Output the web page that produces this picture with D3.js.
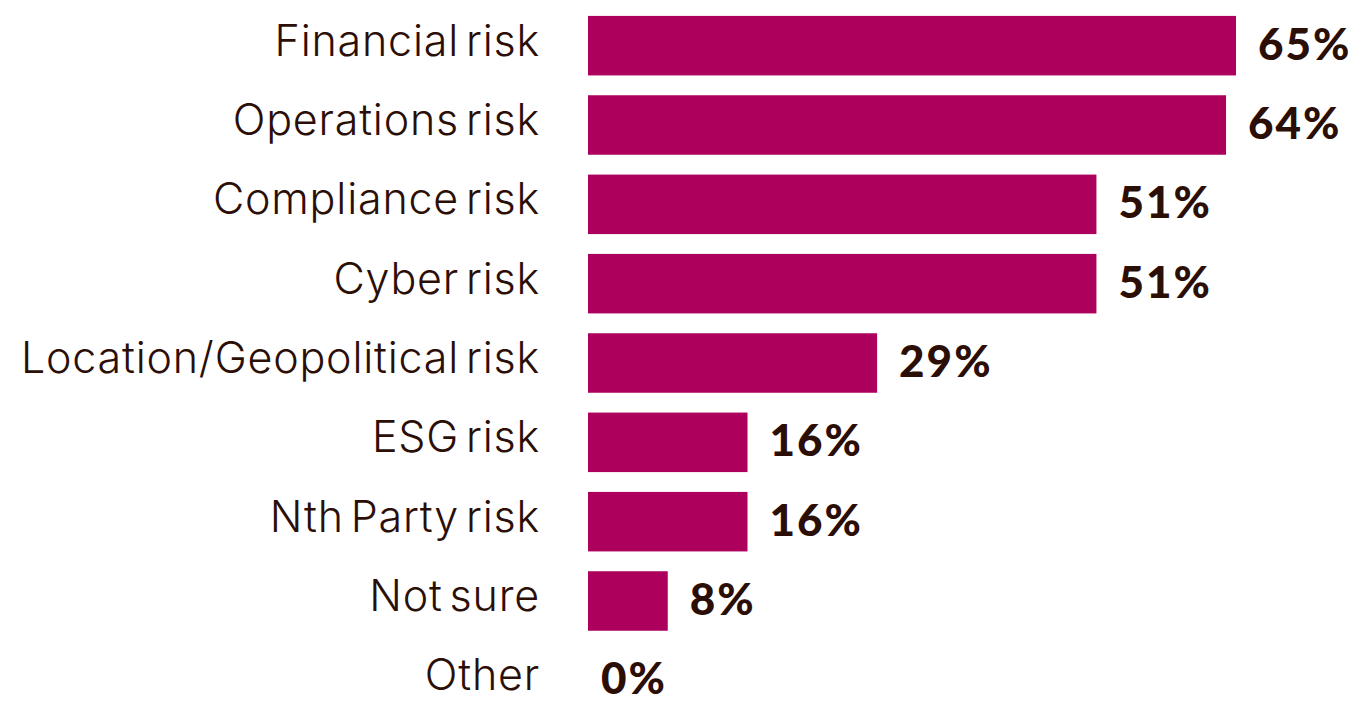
<!DOCTYPE html>
<html>
<head>
<meta charset="utf-8">
<script src="https://cdn.jsdelivr.net/npm/d3@7"></script>
<style>
  html, body { margin: 0; padding: 0; background: #ffffff; }
  svg { display: block; }
</style>
</head>
<body>
<svg id="chart" width="1360" height="702"></svg>
<script>
// Risk categories and share of respondents (%)
const categories = [
  "Financial risk",
  "Operations risk",
  "Compliance risk",
  "Cyber risk",
  "Location/Geopolitical risk",
  "ESG risk",
  "Nth Party risk",
  "Not sure",
  "Other"
];
const values = [65, 64, 51, 51, 29, 16, 16, 8, 0];

const barColor = "#ad005c";
const textColor = "#2b0e06";

const svg = d3.select("#chart");
const data = categories.map((c, i) => ({ category: c, value: values[i] }));

const x = d3.scaleLinear().domain([0, 65]).range([588, 1236]);
const y = d3.scaleBand()
  .domain(categories)
  .range([6, 720])
  .paddingInner(0.25)
  .paddingOuter(0.125);
const mid = d => y(d.category) + y.bandwidth() / 2;

// Bars
svg.append("g")
  .selectAll("rect")
  .data(data)
  .join("rect")
  .attr("x", x(0))
  .attr("y", d => y(d.category))
  .attr("width", d => x(d.value) - x(0))
  .attr("height", y.bandwidth())
  .attr("fill", barColor);

// Category labels
svg.append("g")
  .selectAll("text")
  .data(data)
  .join("text")
  .attr("x", 540)
  .attr("y", d => mid(d) + 10)
  .attr("text-anchor", "end")
  .attr("font-family", "Inter, 'Open Sans', sans-serif")
  .attr("font-weight", 300)
  .attr("font-size", 43)
  .attr("letter-spacing", 0.8)
  .attr("word-spacing", -6)
  .attr("fill", textColor)
  .text(d => d.category);

// Value labels
svg.append("g")
  .selectAll("text")
  .data(data)
  .join("text")
  .attr("x", d => x(d.value) + (d.value > 0 ? 22 : 13))
  .attr("y", d => mid(d) + 14)
  .attr("font-family", "Lato, Inter, sans-serif")
  .attr("font-weight", 900)
  .attr("font-size", 44)
  .attr("letter-spacing", 2)
  .attr("fill", textColor)
  .text(d => d.value + "%");
</script>
</body>
</html>
